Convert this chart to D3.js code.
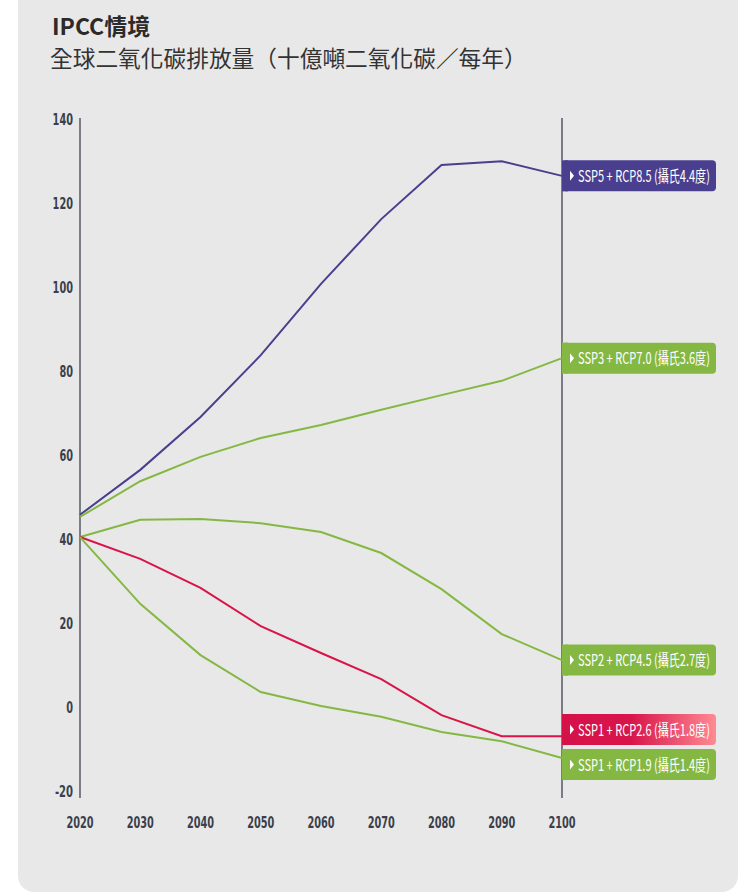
<!DOCTYPE html>
<html>
<head>
<meta charset="utf-8">
<script src="https://cdn.jsdelivr.net/npm/d3@7"></script>
<style>
  body { margin: 0; background: #fff; }
</style>
</head>
<body>
<script>
// data
let years = [2020, 2030, 2040, 2050, 2060, 2070, 2080, 2090, 2100];
let yTicks = [-20, 0, 20, 40, 60, 80, 100, 120, 140];

let ssp585 = [46, 56.7, 69.3, 84, 101, 116.4, 129.3, 130.2, 126.7];
let ssp370 = [45.5, 54, 59.8, 64.3, 67.4, 71, 74.5, 77.9, 83.3];
let ssp245 = [40.7, 44.8, 45, 44, 41.9, 36.9, 28.3, 17.6, 11.4];
let ssp126 = [40.7, 35.5, 28.6, 19.5, 13.1, 6.9, -1.7, -6.7, -6.7];
let ssp119 = [40.7, 24.8, 12.6, 3.8, 0.5, -2.1, -5.7, -7.9, -11.9];

let seriesNames = [
  'SSP5 + RCP8.5 (攝氏4.4度)',
  'SSP3 + RCP7.0 (攝氏3.6度)',
  'SSP2 + RCP4.5 (攝氏2.7度)',
  'SSP1 + RCP2.6 (攝氏1.8度)',
  'SSP1 + RCP1.9 (攝氏1.4度)'
];
let seriesValues = [ssp585, ssp370, ssp245, ssp126, ssp119];
let seriesColors = ['#4a3f8e', '#84b843', '#84b843', '#d81448', '#84b843'];

let W = 741, H = 893;
let sans = "'DejaVu Sans Condensed', 'DejaVu Sans', sans-serif";
let cjk = "'Noto Sans CJK TC', 'Noto Sans', sans-serif";

let svg = d3.select('body').append('svg').attr('width', W).attr('height', H);

let defs = svg.append('defs');
let grad = defs.append('linearGradient').attr('id', 'redGrad');
grad.append('stop').attr('offset', '0%').attr('stop-color', '#d5114a');
grad.append('stop').attr('offset', '45%').attr('stop-color', '#d8154b');
grad.append('stop').attr('offset', '100%').attr('stop-color', '#ff8a93');

// squeeze a text horizontally to a target width (condensed look)
function squeeze(sel, target, allowGrow) {
  sel.each(function() {
    let w = this.getComputedTextLength();
    let s = allowGrow ? target / w : Math.min(1, target / w);
    let ax = +this.getAttribute('x');
    d3.select(this).attr('transform', 'translate(' + ax + ',0) scale(' + s + ',1) translate(' + (-ax) + ',0)');
  });
}

// card background
svg.append('rect').attr('x', 18).attr('y', -20).attr('width', 720).attr('height', 912)
  .attr('rx', 16).attr('fill', '#e8e8e8');

svg.append('text').attr('x', 52).attr('y', 35).text('IPCC情境')
  .style('font-family', cjk).style('font-weight', 'bold').style('font-size', '23px').attr('fill', '#2b2b2b');
svg.append('text').attr('x', 50).attr('y', 67).text('全球二氧化碳排放量（十億噸二氧化碳／每年）')
  .style('font-family', cjk).style('font-size', '22.5px').attr('fill', '#333')
  .call(squeeze, 477, true);

let x = d3.scaleLinear().domain([2020, 2100]).range([80, 562]);
let y = d3.scaleLinear().domain([-20, 140]).range([792, 120]);

let g = svg.append('g');

// axis lines
[2020, 2100].forEach(function(yr) {
  g.append('line').attr('x1', x(yr)).attr('x2', x(yr)).attr('y1', 118).attr('y2', 798)
    .attr('stroke', '#2f3542').attr('stroke-width', 1.2);
});

function tickWidth(s) {
  return String(s).split('').reduce(function(w, c) { return w + (c === '-' ? 4.5 : 6.8); }, 0);
}

// y tick labels
g.selectAll('.ytick').data(yTicks).enter().append('text').attr('class', 'ytick')
  .attr('x', 73).attr('y', function(d) { return y(d) + 5.5; })
  .attr('text-anchor', 'end').text(function(d) { return d; })
  .style('font-family', sans).style('font-weight', 'bold').style('font-size', '15.5px')
  .attr('fill', '#3a3f4b')
  .each(function(d) { d3.select(this).call(squeeze, tickWidth(d)); });

// x tick labels
g.selectAll('.xtick').data(years).enter().append('text').attr('class', 'xtick')
  .attr('x', function(d) { return x(d); }).attr('y', 828)
  .attr('text-anchor', 'middle').text(function(d) { return d; })
  .style('font-family', sans).style('font-weight', 'bold').style('font-size', '15.5px')
  .attr('fill', '#3a3f4b')
  .each(function(d) { d3.select(this).call(squeeze, tickWidth(d)); });

let line = d3.line().x(function(d, i) { return x(years[i]); }).y(function(d) { return y(d); });

seriesValues.forEach(function(vals, k) {
  g.append('path').datum(vals).attr('d', line).attr('fill', 'none')
    .attr('stroke', seriesColors[k]).attr('stroke-width', 2);
});

// labels with simple collision avoidance
let boxH = 31, gap = 4;
let labels = seriesValues.map(function(vals, k) {
  return { k: k, target: y(vals[vals.length - 1]), pos: y(vals[vals.length - 1]) };
}).sort(function(a, b) { return a.target - b.target; });

for (let iter = 0; iter < 20; iter++) {
  for (let i = 1; i < labels.length; i++) {
    let a = labels[i - 1], b = labels[i];
    let overlap = (a.pos + boxH / 2 + gap / 2) - (b.pos - boxH / 2 - gap / 2);
    if (overlap > 0) { a.pos -= overlap / 2; b.pos += overlap / 2; }
  }
}

labels.forEach(function(l) {
  let lg = g.append('g').attr('transform', 'translate(' + x(2100) + ',' + (l.pos - boxH / 2) + ')');
  lg.append('rect').attr('x', 0).attr('y', 0).attr('width', 154).attr('height', boxH).attr('rx', 4)
    .attr('fill', l.k === 3 ? 'url(#redGrad)' : seriesColors[l.k]);
  lg.append('rect').attr('x', 0).attr('y', 0).attr('width', 6).attr('height', boxH)
    .attr('fill', l.k === 3 ? '#d5114a' : seriesColors[l.k]);
  lg.append('path').attr('d', 'M8,' + (boxH / 2 - 5) + 'L12,' + (boxH / 2) + 'L8,' + (boxH / 2 + 5) + 'Z')
    .attr('fill', '#fff');
  lg.append('text').attr('x', 16).attr('y', boxH / 2 + 6).text(seriesNames[l.k])
    .style('font-family', cjk).style('font-size', '16px').attr('fill', '#fff')
    .call(squeeze, 132);
});
</script>
</body>
</html>
